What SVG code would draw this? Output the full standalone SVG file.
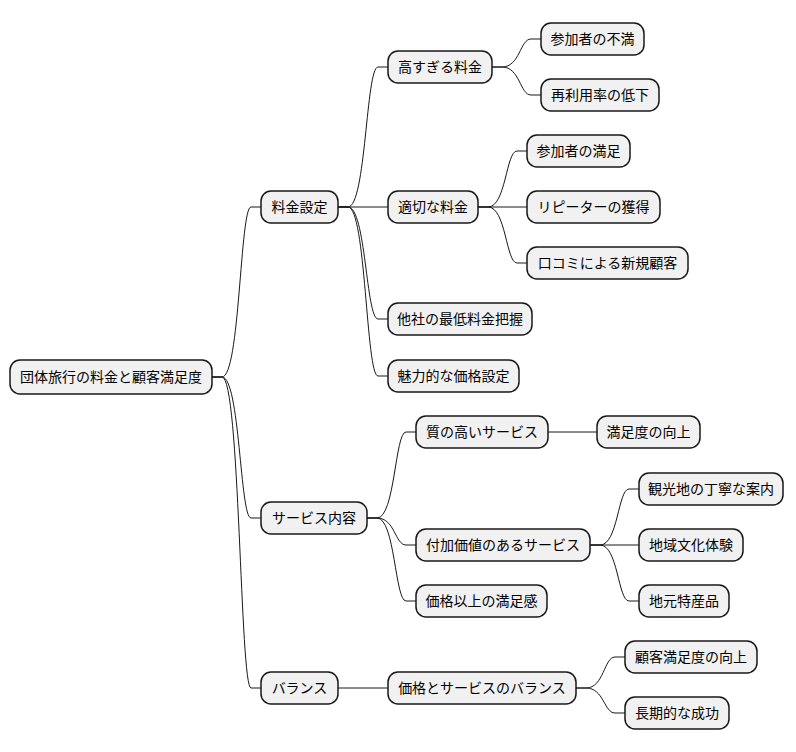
<svg xmlns="http://www.w3.org/2000/svg" width="796" height="752" viewBox="0 0 796 752">
<style>
.n rect{fill:#F1F1F1;stroke:#181818;stroke-width:1.5}
.n text{font-family:"Liberation Sans","Noto Sans CJK JP",sans-serif;font-size:14px;fill:#000;text-anchor:middle;dominant-baseline:central}
#c path{fill:none;stroke:#181818;stroke-width:1}
</style>
<rect width="796" height="752" fill="#fff"/>
<g id="c">
<path d="M212,377 L222,377 C240,377 240,207 251,207 L261,207"/>
<path d="M212,377 L222,377 C240,377 240,518 251,518 L261,518"/>
<path d="M212,377 L222,377 C240,377 240,688 251,688 L261,688"/>
<path d="M338,207 L348,207 C366,207 366,67 378,67 L388,67"/>
<path d="M338,207 L388,207"/>
<path d="M338,207 L348,207 C366,207 366,319 378,319 L388,319"/>
<path d="M338,207 L348,207 C366,207 366,376 378,376 L388,376"/>
<path d="M492,67 L502,67 C520,67 520,39 531,39 L541,39"/>
<path d="M492,67 L502,67 C520,67 520,95 531,95 L541,95"/>
<path d="M478,207 L488,207 C506,207 506,151 517,151 L527,151"/>
<path d="M478,207 L527,207"/>
<path d="M478,207 L488,207 C506,207 506,263 517,263 L527,263"/>
<path d="M367,518 L377,518 C395,518 395,432 406,432 L416,432"/>
<path d="M367,518 L377,518 C395,518 395,545 406,545 L416,545"/>
<path d="M367,518 L377,518 C395,518 395,601 406,601 L416,601"/>
<path d="M548,432 L597,432"/>
<path d="M590,545 L600,545 C618,545 618,489 629,489 L639,489"/>
<path d="M590,545 L639,545"/>
<path d="M590,545 L600,545 C618,545 618,601 629,601 L639,601"/>
<path d="M338,688 L388,688"/>
<path d="M576,688 L586,688 C604,688 604,657 615,657 L625,657"/>
<path d="M576,688 L586,688 C604,688 604,713 615,713 L625,713"/>
</g>
<g id="n0" class="n"><rect x="10" y="360" width="202" height="34" rx="10"/><text x="111" y="377">団体旅行の料金と顧客満足度</text></g>
<g id="n1" class="n"><rect x="261" y="191" width="77" height="32" rx="10"/><text x="299.5" y="207">料金設定</text></g>
<g id="n2" class="n"><rect x="261" y="502" width="106" height="32" rx="10"/><text x="314" y="518">サービス内容</text></g>
<g id="n3" class="n"><rect x="261" y="672" width="77" height="32" rx="10"/><text x="299.5" y="688">バランス</text></g>
<g id="n4" class="n"><rect x="388" y="51" width="104" height="32" rx="10"/><text x="440" y="67">高すぎる料金</text></g>
<g id="n5" class="n"><rect x="541" y="23" width="103" height="32" rx="10"/><text x="592.5" y="39">参加者の不満</text></g>
<g id="n6" class="n"><rect x="541" y="79" width="118" height="32" rx="10"/><text x="600" y="95">再利用率の低下</text></g>
<g id="n7" class="n"><rect x="388" y="191" width="90" height="32" rx="10"/><text x="433" y="207">適切な料金</text></g>
<g id="n8" class="n"><rect x="527" y="135" width="103" height="32" rx="10"/><text x="578.5" y="151">参加者の満足</text></g>
<g id="n9" class="n"><rect x="527" y="191" width="133" height="32" rx="10"/><text x="593.5" y="207">リピーターの獲得</text></g>
<g id="n10" class="n"><rect x="527" y="247" width="161" height="32" rx="10"/><text x="607.5" y="263">口コミによる新規顧客</text></g>
<g id="n11" class="n"><rect x="388" y="303" width="144" height="32" rx="10"/><text x="460" y="319">他社の最低料金把握</text></g>
<g id="n12" class="n"><rect x="388" y="360" width="131" height="32" rx="10"/><text x="453.5" y="376">魅力的な価格設定</text></g>
<g id="n13" class="n"><rect x="416" y="416" width="132" height="32" rx="10"/><text x="482" y="432">質の高いサービス</text></g>
<g id="n14" class="n"><rect x="597" y="416" width="103" height="32" rx="10"/><text x="648.5" y="432">満足度の向上</text></g>
<g id="n15" class="n"><rect x="416" y="529" width="174" height="32" rx="10"/><text x="503" y="545">付加価値のあるサービス</text></g>
<g id="n16" class="n"><rect x="639" y="473" width="144" height="32" rx="10"/><text x="711" y="489">観光地の丁寧な案内</text></g>
<g id="n17" class="n"><rect x="639" y="529" width="104" height="32" rx="10"/><text x="691" y="545">地域文化体験</text></g>
<g id="n18" class="n"><rect x="639" y="585" width="90" height="32" rx="10"/><text x="684" y="601">地元特産品</text></g>
<g id="n19" class="n"><rect x="416" y="585" width="131" height="32" rx="10"/><text x="481.5" y="601">価格以上の満足感</text></g>
<g id="n20" class="n"><rect x="388" y="672" width="188" height="32" rx="10"/><text x="482" y="688">価格とサービスのバランス</text></g>
<g id="n21" class="n"><rect x="625" y="641" width="132" height="32" rx="10"/><text x="691" y="657">顧客満足度の向上</text></g>
<g id="n22" class="n"><rect x="625" y="697" width="104" height="32" rx="10"/><text x="677" y="713">長期的な成功</text></g>
</svg>
